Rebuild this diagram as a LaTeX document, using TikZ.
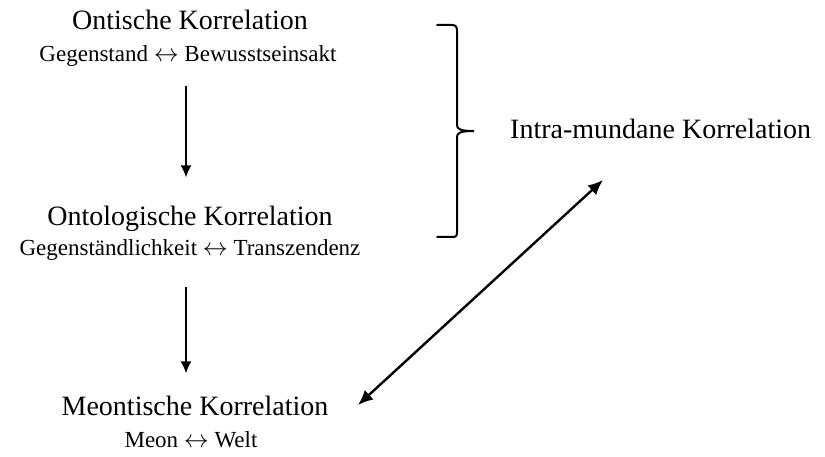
\documentclass[tikz,border=0pt]{standalone}
\usepackage{fontspec}
\setmainfont{Liberation Serif}
\usepackage{tikz}
\usetikzlibrary{arrows.meta, positioning}
\tikzstyle{title} = [font=\fontsize{28}{32}\selectfont, inner sep=0pt, anchor=base]
\tikzstyle{pair} = [font=\fontsize{23}{27}\selectfont, inner sep=0pt, anchor=base]
\tikzstyle{link} = [line width=1.5pt, -{Latex[length=12pt, width=11pt]}]

\begin{document}
\begin{tikzpicture}[x=1pt, y=-1pt]
    \useasboundingbox (0,0) rectangle (825,457);
    % We start by placing the titles
    \node [title] (ontic) at (190,30) {Ontische Korrelation};
    \node [pair] (onticpair) at (188,62) {Gegenstand $\leftrightarrow$ Bewusstseinsakt};
    \node [title] (ontol) at (190,226) {Ontologische Korrelation};
    \node [pair] (ontolpair) at (190,255) {Gegenständlichkeit $\leftrightarrow$ Transzendenz};
    \node [title] (meont) at (195,415) {Meontische Korrelation};
    \node [pair] (meontpair) at (191,447) {Meon $\leftrightarrow$ Welt};
    \node [title, anchor=base west] (intra) at (510,139) {Intra-mundane Korrelation};
    \coordinate (low) at (358,405);
    \coordinate (high) at (603,180);

    \draw[link] ([yshift=-19pt]onticpair.south -| 186,0) -- ([yshift=29pt]ontol.north -| 186,0);
    \draw[link] ([yshift=-27pt]ontolpair.south -| 186,0) -- ([yshift=22pt]meont.north -| 186,0);
    \draw[line width=2.4pt, {Latex[length=15pt, width=13pt]}-{Latex[length=15pt, width=13pt]}] (low) -- (high);

    % the bracket
    \draw[line width=2pt, line cap=round]
        (437,25) -- (452,25) .. controls (456,25) and (457,27) .. (457,31)
        -- (457,125) .. controls (457,129) and (460,131) .. (474,131)
        .. controls (460,131) and (457,133) .. (457,137)
        -- (457,232) .. controls (457,236) and (456,237) .. (452,237) -- (437,237);
\end{tikzpicture}
\end{document}
